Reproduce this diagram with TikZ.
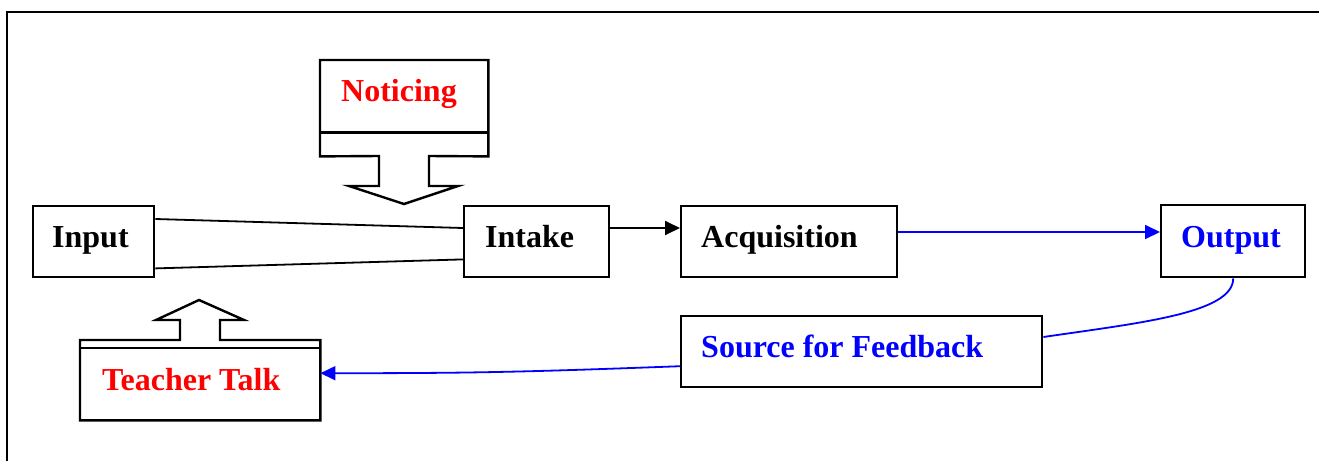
\documentclass[tikz,border=0pt]{standalone}
\usepackage{fontspec}
\setmainfont{Liberation Serif}
\usetikzlibrary{arrows.meta}
\definecolor{fbblue}{RGB}{0,0,255}
\definecolor{fbred}{RGB}{255,0,0}

\begin{document}
\begin{tikzpicture}[x=1pt,y=-1pt,
  box/.style={draw, line width=2.4pt, inner sep=0pt, anchor=north west},
  slot/.style={inner sep=0pt, anchor=north west},
  word/.style={font=\fontsize{32}{36}\selectfont\bfseries, inner sep=0pt, anchor=base west},
  outline/.style={line width=2.4pt, line join=miter},
  link/.style={line width=1.8pt},
  tip/.style={-{Triangle[length=15pt,width=14pt]}}]

\useasboundingbox (0,0) rectangle (1319,461);

% page frame
\draw[line width=2.6pt] (7,461) -- (7,12) -- (1319,12);

% main chain
\node[box, minimum width=121pt, minimum height=71pt] (input) at (32,205) {};
\node[box, minimum width=145pt, minimum height=71pt] (intake) at (463,205) {};
\node[box, minimum width=216pt, minimum height=71pt] (acq) at (680,205) {};
\node[box, minimum width=144pt, minimum height=72pt] (output) at (1160,204) {};
\node[box, minimum width=361pt, minimum height=71pt] (source) at (680,315) {};

\node[word] (tinput) at (52,247) {Input};
\node[word] (tintake) at (485,247) {Intake};
\node[word] (tacq) at (701,247) {Acquisition};
\node[word, text=fbblue] (toutput) at (1181,247) {Output};
\node[word, text=fbblue] (tsource) at (701,357) {Source for Feedback};

% callout: Noticing
\node[slot, minimum width=168pt, minimum height=96pt] (notice) at (320,60) {};
\draw[outline] (notice.north west) -- (notice.north east) -- (notice.south east)
  -- (429,156) -- (429,186) -- (458,186) -- (404,204) -- (349,186) -- (379,186)
  -- (379,156) -- (notice.south west) -- cycle;
\draw[outline] ([yshift=24pt]notice.south west) -- ([yshift=24pt]notice.south east);
\node[word, text=fbred] (tnotice) at (341,101) {Noticing};

% callout: Teacher Talk
\node[slot, minimum width=240pt, minimum height=80pt] (teacher) at (80,340) {};
\draw[outline] (teacher.north west) -- (180,340) -- (180,320) -- (156,320)
  -- (199,300) -- (244,320) -- (220,320) -- (220,340) -- (teacher.north east)
  -- (teacher.south east) -- (teacher.south west) -- cycle;
\draw[outline] ([yshift=-8pt]teacher.north west) -- ([yshift=-8pt]teacher.north east);
\node[word, text=fbred] (tteacher) at (102,390) {Teacher Talk};

% connectors
\draw[link] ([yshift=-14pt]input.north east) -- ([yshift=-23pt]intake.north west);
\draw[link] ([yshift=10pt]input.south east) -- ([yshift=19pt]intake.south west);
\draw[link, tip] ([yshift=-23pt]intake.north east) -- ([yshift=-23pt]acq.north west);
\draw[link, fbblue, tip] ([yshift=-27pt]acq.north east) -- ([yshift=-28pt]output.north west);
\draw[link, fbblue] (output.south) .. controls +(0,35) and +(95,-14) .. ([yshift=-22pt]source.north east);
\draw[link, fbblue, tip] ([yshift=-14.5pt]source.west) .. controls +(-160,6) and +(150,0) .. ([yshift=7pt]teacher.east);
\end{tikzpicture}
\end{document}
